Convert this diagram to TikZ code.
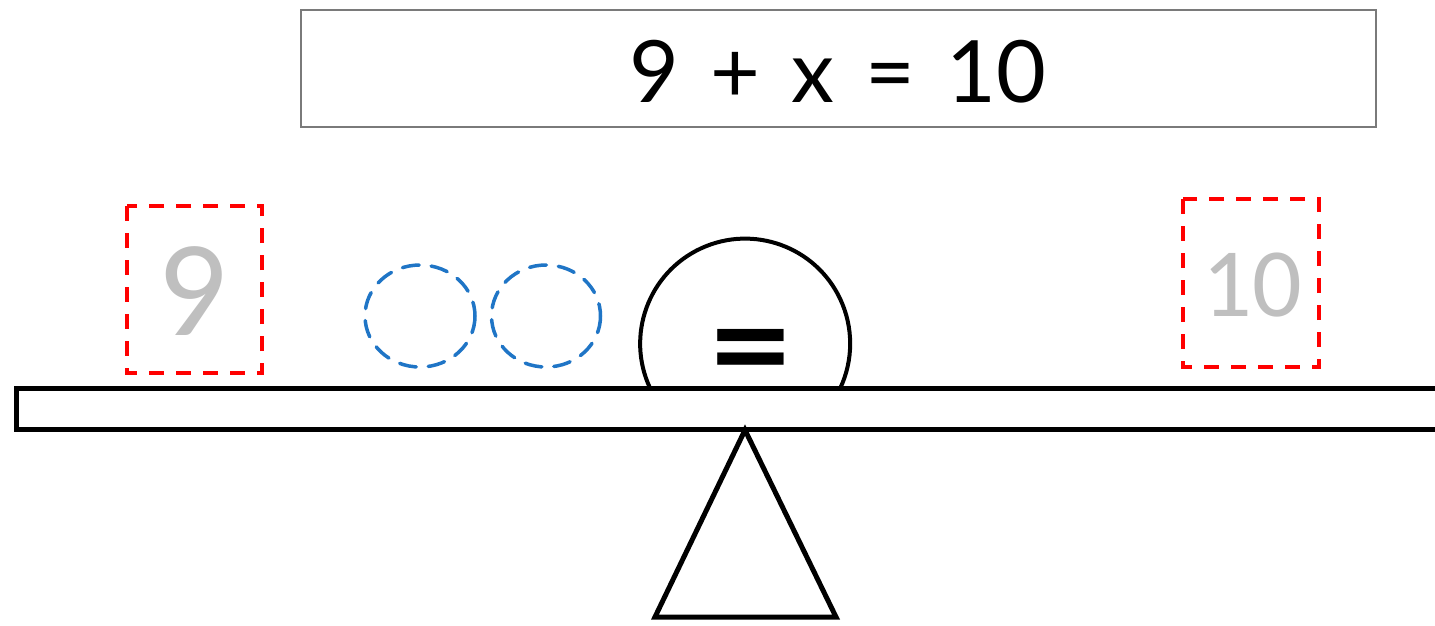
\documentclass[tikz,border=0pt]{standalone}
\usepackage{fontspec}
\setmainfont{Lato}
\newfontfamily\calfont{Carlito}
\newfontfamily\eqfont{DejaVu Sans}
\definecolor{dashred}{HTML}{FF0000}
\definecolor{dashblue}{HTML}{1F75C6}
\definecolor{numgray}{HTML}{BFBFBF}
\definecolor{boxgray}{HTML}{7A7A7A}
\tikzset{
  redbox/.style={draw=dashred, line width=4pt, dash pattern=on 15pt off 12pt},
  bluecirc/.style={draw=dashblue, line width=3.5pt, dash pattern=on 17pt off 12pt, line cap=round},
  thick black/.style={draw=black, line width=5pt},
}
\newcommand{\eqgap}{\hspace{31pt}}
\begin{document}
\begin{tikzpicture}[x=1pt,y=-1pt]
\useasboundingbox (0,0) rectangle (1435,625);
\fill[white] (0,0) rectangle (1435,625);
% title box
\draw[boxgray, line width=1.8pt] (301,10) rectangle (1376,127);
\node[anchor=base, inner sep=0] (eq) at (838,102) {\fontsize{86}{90}\selectfont 9\eqgap+\eqgap x\eqgap=\eqgap 10};
% left red box with 9
\draw[redbox] (127,206) rectangle (262,373);
\node[anchor=base, inner sep=0, text=numgray] (nine) at (192.5,335) {\calfont\fontsize{137}{140}\selectfont 9};
% right red box with 10
\draw[redbox] (1183,199) rectangle (1319,367);
\node[anchor=base, inner sep=0, text=numgray] (ten) at (1252,316) {\calfont\fontsize{98}{100}\selectfont 10};
% blue dashed circles
\draw[bluecirc] (420,316) ellipse [x radius=55, y radius=51];
\draw[bluecirc] (546,316) ellipse [x radius=54.5, y radius=51];
% dome
\draw[black, line width=4pt, fill=white] (650,388) arc[start angle=155, end angle=385, radius=105] -- cycle;
\node[anchor=base, inner sep=0] (eqsign) at (751,380) {\eqfont\bfseries\fontsize{106}{106}\selectfont =};
% beam
\draw[thick black, fill=white] (1445,388) -- (16,388) -- (16,429.5) -- (1445,429.5);
% fulcrum
\draw[thick black, line join=miter] (745,430) -- (836,617) -- (655,617) -- cycle;
\end{tikzpicture}
\end{document}
